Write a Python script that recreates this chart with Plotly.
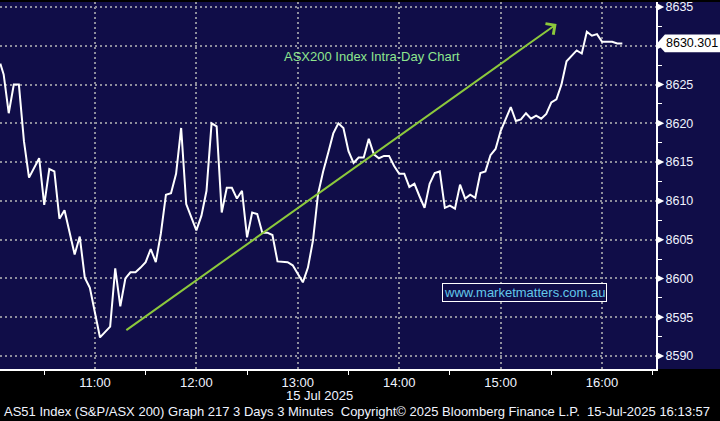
import plotly.graph_objects as go

DATE = "2025-07-15 "

times_10 = ["10:04", "10:06", "10:09", "10:12", "10:15", "10:18", "10:21", "10:27", "10:30", "10:33",
            "10:36", "10:39", "10:42", "10:48", "10:51", "10:54", "10:57"]
vals_10 = [8627.7, 8626.3, 8621.3, 8625.0, 8625.0, 8617.7, 8613.0, 8615.5, 8609.5, 8614.1,
           8613.8, 8607.7, 8608.8, 8603.1, 8605.4, 8600.1, 8598.8]

times_11 = ["11:03", "11:09", "11:12", "11:15", "11:18", "11:21", "11:24", "11:27", "11:30", "11:33",
            "11:36", "11:39", "11:42", "11:45", "11:48", "11:51", "11:54"]
vals_11 = [8592.4, 8593.8, 8601.3, 8596.4, 8600.0, 8600.8, 8600.8, 8601.4, 8602.1, 8603.8,
           8602.1, 8605.8, 8610.8, 8611.0, 8613.5, 8619.4, 8609.6]

times_12 = ["12:00", "12:03", "12:06", "12:09", "12:12", "12:15", "12:18", "12:21", "12:24", "12:27",
            "12:30", "12:33", "12:36", "12:39", "12:42", "12:45", "12:48", "12:54", "12:57"]
vals_12 = [8606.2, 8608.1, 8611.3, 8620.0, 8619.6, 8608.5, 8611.7, 8611.7, 8610.3, 8611.3,
           8605.3, 8608.5, 8608.3, 8605.9, 8605.9, 8605.6, 8602.2, 8602.1, 8601.7]

times_13 = ["13:03", "13:06", "13:09", "13:12", "13:15", "13:18", "13:21", "13:24", "13:27", "13:30",
            "13:33", "13:36", "13:39", "13:42", "13:45", "13:48", "13:51", "13:54", "13:57"]
vals_13 = [8599.5, 8601.4, 8604.9, 8610.9, 8613.8, 8616.2, 8618.7, 8620.0, 8619.4, 8616.4,
           8614.9, 8615.6, 8615.6, 8618.0, 8616.0, 8615.5, 8615.8, 8615.8, 8614.5]

times_14 = ["14:00", "14:03", "14:06", "14:09", "14:12", "14:15", "14:18", "14:21", "14:24", "14:27",
            "14:30", "14:33", "14:36", "14:39", "14:42", "14:45", "14:48", "14:51", "14:54", "14:57"]
vals_14 = [8613.5, 8613.5, 8611.8, 8612.2, 8610.6, 8609.1, 8612.2, 8613.6, 8613.8, 8609.1,
           8609.4, 8609.0, 8612.1, 8610.3, 8610.8, 8610.4, 8613.6, 8613.8, 8615.9, 8616.7]

times_15 = ["15:00", "15:03", "15:06", "15:09", "15:12", "15:15", "15:18", "15:21", "15:24", "15:27",
            "15:30", "15:33", "15:36", "15:39", "15:42", "15:45", "15:48", "15:51", "15:54", "15:57"]
vals_15 = [8619.0, 8620.6, 8622.1, 8620.3, 8620.5, 8621.3, 8620.6, 8621.0, 8620.6, 8621.2,
           8622.7, 8623.1, 8625.0, 8628.0, 8628.7, 8629.4, 8629.0, 8631.8, 8631.3, 8631.5]

times_16 = ["16:00", "16:03", "16:06", "16:09", "16:12"]
vals_16 = [8630.5, 8630.5, 8630.5, 8630.3, 8630.301]

last_value = 8630.301

y_tick_vals = [8590, 8595, 8600, 8605, 8610, 8615, 8620, 8625, 8630, 8635]
y_tick_text = ["8590", "8595", "8600", "8605", "8610", "8615", "8620", "8625", "", "8635"]
x_tick_vals = ["11:00", "12:00", "13:00", "14:00", "15:00", "16:00"]

trend_start = ("11:17:42", 8593.2)
trend_end = ("15:33:06", 8632.8)

x_range = ("10:03:50", "16:31:55")
y_range = (8588.33, 8635.64)

title_text = "ASX200 Index Intra-Day Chart"
watermark = "www.marketmatters.com.au"
date_label = "15 Jul 2025"
footer = ("AS51 Index (S&P/ASX 200) Graph 217 3 Days 3 Minutes  Copyright\u00a9 2025 "
          "Bloomberg Finance L.P.  15-Jul-2025 16:13:57")

times = times_10 + times_11 + times_12 + times_13 + times_14 + times_15 + times_16
vals = vals_10 + vals_11 + vals_12 + vals_13 + vals_14 + vals_15 + vals_16
assert len(times) == len(vals)
x = [DATE + t for t in times]

NAVY = "#100d48"
FONT = "Liberation Sans, Arial, sans-serif"

fig = go.Figure()
fig.add_trace(go.Scatter(x=x, y=vals, mode="lines",
                         line=dict(color="white", width=2), hoverinfo="skip",
                         showlegend=False))

shapes = []
# navy background behind the right-hand axis area
shapes.append(dict(type="rect", xref="paper", yref="paper", x0=1, x1=1.1, y0=0, y1=1,
                   fillcolor=NAVY, line=dict(width=0), layer="below"))
# triangle markers at the y tick labels
for v in y_tick_vals:
    shapes.append(dict(type="path", xref="paper", yref="y",
                       path=f"M 1.002 {v-0.45} L 1.002 {v+0.45} L 1.0125 {v} Z",
                       fillcolor="white", line=dict(width=0)))
# last value tag
h = 1.15
shapes.append(dict(type="path", xref="paper", yref="y",
                   path=(f"M 1.0015 {last_value} L 1.0135 {last_value+h} L 1.1 {last_value+h} "
                         f"L 1.1 {last_value-h} L 1.0135 {last_value-h} Z"),
                   fillcolor="white", line=dict(width=0)))
fig.update_layout(shapes=shapes)

annotations = [
    dict(x=DATE + trend_end[0], y=trend_end[1], ax=DATE + trend_start[0], ay=trend_start[1],
         xref="x", yref="y", axref="x", ayref="y", text="", showarrow=True,
         arrowhead=4, arrowsize=1.3, arrowwidth=2, arrowcolor="#8cc83c", standoff=0),
    dict(x=0.567, y=0.851, xref="paper", yref="paper", text=title_text, showarrow=False,
         font=dict(family=FONT, size=13, color="#8ee68e"), xanchor="center", yanchor="middle"),
    dict(x=0.799, y=0.2087, xref="paper", yref="paper", text=watermark, showarrow=False,
         font=dict(family=FONT, size=13, color="#62c8ea"), bgcolor=NAVY,
         bordercolor="white", borderwidth=1, borderpad=1, xanchor="center", yanchor="middle"),
    dict(x=1.0556, y=last_value, xref="paper", yref="y", text=f"{last_value:.3f}",
         showarrow=False, font=dict(family=FONT, size=12.5, color="black"),
         xanchor="center", yanchor="middle"),
    dict(x=0.433, y=-0.0732, xref="paper", yref="paper", text=date_label, showarrow=False,
         font=dict(family=FONT, size=13, color="#f0f4ff"), xanchor="left", yanchor="middle"),
    dict(x=0.003, y=-0.1165, xref="paper", yref="paper", text=footer, showarrow=False,
         font=dict(family=FONT, size=13, color="#f0f4ff"), xanchor="left", yanchor="middle"),
]
fig.update_layout(annotations=annotations)

fig.update_layout(
    width=720, height=421,
    margin=dict(l=0, r=64, t=0, b=52),
    paper_bgcolor="black", plot_bgcolor=NAVY,
    font=dict(family=FONT, size=13, color="#f0f4ff"),
    showlegend=False,
)
fig.update_xaxes(
    type="date", range=[DATE + x_range[0], DATE + x_range[1]],
    tickvals=[DATE + t for t in x_tick_vals], ticktext=x_tick_vals,
    ticks="", showgrid=True, gridcolor="#8e8e9c", gridwidth=2, griddash="2px,3px",
    showline=True, linecolor="white", linewidth=2, mirror=False,
    tickfont=dict(family=FONT, size=13, color="#f0f4ff"),
    minor=dict(tickvals=[DATE + t for t in ["10:30", "11:30", "12:30", "13:30", "14:30", "15:30", "16:30"]],
               ticks="outside", ticklen=4, tickcolor="white", tickwidth=1, showgrid=False),
    zeroline=False,
)
fig.update_yaxes(
    range=list(y_range), side="right",
    tickvals=y_tick_vals, ticktext=y_tick_text,
    ticks="", showgrid=True, gridcolor="#8e8e9c", gridwidth=2, griddash="2px,3px",
    showline=True, linecolor="white", linewidth=2,
    tickfont=dict(family=FONT, size=12.5, color="#f0f4ff"),
    ticklabelstandoff=5, ticklabeloverflow="allow",
    minor=dict(tickvals=[8592.5, 8597.5, 8602.5, 8607.5, 8612.5, 8617.5, 8622.5, 8627.5, 8632.5],
               ticks="outside", ticklen=4, tickcolor="white", tickwidth=1, showgrid=False),
    zeroline=False,
)

fig.write_html("out.html", config={"displayModeBar": False},
               post_script="document.body.style.margin='0';document.body.style.background='black';")
